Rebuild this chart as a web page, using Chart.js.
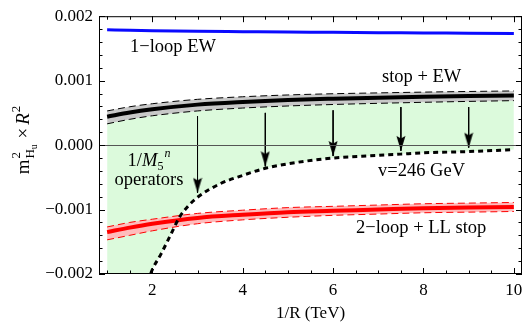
<!DOCTYPE html>
<html>
<head>
<meta charset="utf-8">
<script src="https://cdn.jsdelivr.net/npm/chart.js@4.4.1/dist/chart.umd.min.js"></script>
<style>
html, body { margin: 0; padding: 0; background: #fff; }
</style>
</head>
<body>
<canvas id="chart" width="532" height="326"></canvas>
<script>
// curve samples (1/R in TeV)
const xs = [1, 1.5, 2, 3, 4, 5, 6, 7, 8, 9, 10];
const ewOneLoop = [0.00179, 0.001782, 0.001775, 0.001765, 0.00176, 0.001755, 0.00175, 0.001745, 0.00174, 0.001735, 0.00173];
const stopEw = [0.00044, 0.000505, 0.000555, 0.000628, 0.00067, 0.0007, 0.00072, 0.000736, 0.00075, 0.00076, 0.00077];
const stopEwHigh = [0.00053, 0.000595, 0.000642, 0.00071, 0.00075, 0.000778, 0.000797, 0.00081, 0.000822, 0.000832, 0.00084];
const stopEwLow = [0.00033, 0.0004, 0.000455, 0.00053, 0.000575, 0.000607, 0.00063, 0.000648, 0.000664, 0.000678, 0.00069];
const twoLoop = [-0.00135, -0.00128, -0.00122, -0.00113, -0.00108, -0.00104, -0.00102, -0.001, -0.00098, -0.00097, -0.00096];
const twoLoopHigh = [-0.00127, -0.0012, -0.00115, -0.00106, -0.00101, -0.00097, -0.00095, -0.00093, -0.00091, -0.0009, -0.00089];
const twoLoopLow = [-0.00147, -0.0014, -0.00133, -0.00122, -0.00116, -0.00112, -0.00109, -0.00107, -0.00105, -0.00104, -0.00103];

// v = 246 GeV curve (first points run off the bottom of the frame)
const vevX = [1, 1.5, 1.8, 1.96, 2.2, 2.4, 2.6, 2.8, 3, 3.5, 4, 4.5, 5, 6, 7, 7.5, 8, 9, 10];
const vevY = [-0.0078, -0.0034, -0.0024, -0.002, -0.00168, -0.0014, -0.00112, -0.00094, -0.00081, -0.0006, -0.00047, -0.00036, -0.00029, -0.0002, -0.00016, -0.00014, -0.00012, -0.0001, -0.00007];

// downward arrows
const arrowX = [3, 4.5, 6, 7.5, 9];
const arrowFrom = [0.00045, 0.0005, 0.00054, 0.00059, 0.00059];
const arrowTo = [-0.00074, -0.00033, -0.00017, -0.00009, -0.00004];

const xTicks = [2, 4, 6, 8, 10];
const xMinorTicks = [1, 1.5, 2.5, 3, 3.5, 4.5, 5, 5.5, 6.5, 7, 7.5, 8.5, 9, 9.5];
const yTicks = [-0.002, -0.001, 0, 0.001, 0.002];
const yMinorTicks = [-0.0018, -0.0016, -0.0014, -0.0012, -0.0008, -0.0006, -0.0004, -0.0002,
                     0.0002, 0.0004, 0.0006, 0.0008, 0.0012, 0.0014, 0.0016, 0.0018];

const SERIF = '"Liberation Serif", "Times New Roman", serif';
const GREEN = '#dcfadc';
const GRAY = '#c8c8c8';
const PINK = '#ffbcbc';

function pts(xv, yv) {
    return xv.map((x, i) => ({x: x, y: yv[i]}));
}

function makeArrowHead() {
    const c = document.createElement('canvas');
    c.width = 10;
    c.height = 32;
    const g = c.getContext('2d');
    g.fillStyle = '#000';
    g.beginPath();
    g.moveTo(5, 16);
    g.lineTo(0.5, 1);
    g.lineTo(5, 3.5);
    g.lineTo(9.5, 1);
    g.closePath();
    g.fill();
    return c;
}
const arrowHead = makeArrowHead();

const curve = {pointRadius: 0, cubicInterpolationMode: 'monotone', fill: false};

const datasets = [];
arrowX.forEach((x, i) => {
    datasets.push({
        data: [{x: x, y: arrowFrom[i]}, {x: x, y: arrowTo[i]}],
        borderColor: '#000',
        borderWidth: 1,
        pointRadius: [0, 1],
        pointStyle: arrowHead,
        fill: false
    });
});
// 5: v=246 GeV
datasets.push(Object.assign({}, curve, {data: pts(vevX, vevY), borderColor: '#000', borderWidth: 3, borderDash: [5, 4]}));
// 6-8: 2-loop + LL stop
datasets.push(Object.assign({}, curve, {data: pts(xs, twoLoop), borderColor: '#ff0000', borderWidth: 4}));
datasets.push(Object.assign({}, curve, {data: pts(xs, twoLoopHigh), borderColor: '#ff0000', borderWidth: 1, borderDash: [7, 4], fill: 8, backgroundColor: PINK}));
datasets.push(Object.assign({}, curve, {data: pts(xs, twoLoopLow), borderColor: '#ff0000', borderWidth: 1, borderDash: [7, 4]}));
// 9: 1-loop EW
datasets.push(Object.assign({}, curve, {data: pts(xs, ewOneLoop), borderColor: '#0a0aff', borderWidth: 3}));
// 10-12: stop + EW, lower edge filled down to the v curve
datasets.push(Object.assign({}, curve, {data: pts(xs, stopEw), borderColor: '#000', borderWidth: 4}));
datasets.push(Object.assign({}, curve, {data: pts(xs, stopEwHigh), borderColor: '#000', borderWidth: 1, borderDash: [7, 4], fill: 12, backgroundColor: GRAY}));
datasets.push(Object.assign({}, curve, {data: pts(xs, stopEwLow), borderColor: '#000', borderWidth: 1, borderDash: [7, 4], fill: 5, backgroundColor: GREEN}));

function fmtY(v) {
    return v.toFixed(3).replace('-', '\u2212');
}

function text(ctx, str, x, y, font, align) {
    ctx.font = font;
    ctx.textAlign = align || 'left';
    ctx.fillText(str, x, y);
}

function drawYTitle(ctx, cx, cy) {
    const big = '19px ' + SERIF;
    const bigI = 'italic 19px ' + SERIF;
    const small = '13px ' + SERIF;
    const tiny = '9.5px ' + SERIF;
    ctx.save();
    ctx.translate(cx, cy);
    ctx.rotate(-Math.PI / 2);
    ctx.textAlign = 'left';
    ctx.font = big;
    const mW = ctx.measureText('m').width;
    const timesW = ctx.measureText('\u00d7').width;
    ctx.font = small;
    const twoW = ctx.measureText('2').width;
    const hW = ctx.measureText('H').width;
    ctx.font = tiny;
    const uW = ctx.measureText('u').width;
    ctx.font = bigI;
    const rW = ctx.measureText('R').width;
    const stackW = Math.max(twoW, hW + uW);
    const total = mW + 1 + stackW + 6 + timesW + 3 + rW + 1 + twoW;
    let p = -total / 2;
    text(ctx, 'm', p, 0, big);
    p += mW + 1;
    text(ctx, '2', p, -9, small);
    text(ctx, 'H', p, 5, small);
    text(ctx, 'u', p + hW, 8, tiny);
    p += stackW + 6;
    text(ctx, '\u00d7', p, 0, big);
    p += timesW + 3;
    text(ctx, 'R', p, 0, bigI);
    p += rW + 1;
    text(ctx, '2', p, -9, small);
    ctx.restore();
}

const framePlugin = {
    id: 'frame',
    afterDatasetsDraw(chart) {
        const ctx = chart.ctx;
        const a = chart.chartArea;
        const x = chart.scales.x;
        const y = chart.scales.y;
        ctx.save();
        ctx.lineWidth = 1;

        // zero line
        const y0 = Math.round(y.getPixelForValue(0)) + 0.5;
        ctx.strokeStyle = '#555';
        ctx.beginPath();
        ctx.moveTo(a.left, y0);
        ctx.lineTo(a.right, y0);
        ctx.stroke();

        // frame + inward ticks
        ctx.strokeStyle = '#000';
        ctx.strokeRect(a.left + 0.5, a.top + 0.5, a.right - a.left - 1, a.bottom - a.top - 1);
        ctx.beginPath();
        const xt = (v, len) => {
            const px = Math.round(x.getPixelForValue(v)) + 0.5;
            ctx.moveTo(px, a.bottom); ctx.lineTo(px, a.bottom - len);
            ctx.moveTo(px, a.top); ctx.lineTo(px, a.top + len);
        };
        const yt = (v, len) => {
            const py = Math.round(y.getPixelForValue(v)) + 0.5;
            ctx.moveTo(a.left, py); ctx.lineTo(a.left + len, py);
            ctx.moveTo(a.right, py); ctx.lineTo(a.right - len, py);
        };
        xTicks.forEach(v => xt(v, 6));
        xMinorTicks.forEach(v => xt(v, 3.5));
        yTicks.forEach(v => yt(v, 6));
        yMinorTicks.forEach(v => yt(v, 3.5));
        ctx.stroke();

        // curve labels
        ctx.fillStyle = '#000';
        ctx.textBaseline = 'alphabetic';
        const f = '18.5px ' + SERIF;
        text(ctx, '1\u2212loop EW', 130, 52, f);
        text(ctx, 'stop + EW', 382, 82, f);
        text(ctx, 'v=246 GeV', 378, 176, f);
        text(ctx, '2\u2212loop + LL stop', 356, 233, f);

        // 1/M5^n operators
        const fi = 'italic 18.5px ' + SERIF;
        const fs = '12px ' + SERIF;
        const fsi = 'italic 12px ' + SERIF;
        ctx.font = f;
        const w1 = ctx.measureText('1/').width;
        ctx.font = fi;
        const wM = ctx.measureText('M').width;
        ctx.font = fs;
        const w5 = ctx.measureText('5').width;
        ctx.font = fsi;
        const wn = ctx.measureText('n').width;
        let p = 149 - (w1 + wM + w5 + wn + 1) / 2;
        text(ctx, '1/', p, 166, f);
        p += w1;
        text(ctx, 'M', p, 166, fi);
        p += wM;
        text(ctx, '5', p, 170, fs);
        p += w5 + 1;
        text(ctx, 'n', p, 157, fsi);
        text(ctx, 'operators', 149, 184.5, f, 'center');

        drawYTitle(ctx, 29, 140);
        ctx.restore();
    }
};

const tickFont = {family: SERIF, size: 17};

new Chart(document.getElementById('chart'), {
    type: 'line',
    data: {datasets: datasets},
    options: {
        responsive: false,
        devicePixelRatio: 1,
        animation: false,
        layout: {padding: {top: 13, right: 10, left: 0, bottom: 0}},
        plugins: {
            legend: {display: false},
            tooltip: {enabled: false},
            filler: {drawTime: 'beforeDatasetsDraw'}
        },
        scales: {
            x: {
                type: 'linear',
                min: 0.82,
                max: 10.18,
                afterBuildTicks: s => { s.ticks = xTicks.map(v => ({value: v})); },
                afterFit: s => { s.height = 52; },
                grid: {display: false, drawTicks: false},
                border: {display: false},
                ticks: {font: tickFont, color: '#000', padding: 6, maxRotation: 0, autoSkip: false},
                title: {display: true, text: '1/R (TeV)', font: tickFont, color: '#000', padding: {top: 0, bottom: 2}}
            },
            y: {
                type: 'linear',
                min: -0.002,
                max: 0.002,
                afterBuildTicks: s => { s.ticks = yTicks.map(v => ({value: v})); },
                afterFit: s => { s.width = 99; },
                grid: {display: false, drawTicks: false},
                border: {display: false},
                ticks: {font: tickFont, color: '#000', padding: 6, callback: v => fmtY(v)}
            }
        }
    },
    plugins: [framePlugin]
});
</script>
</body>
</html>
